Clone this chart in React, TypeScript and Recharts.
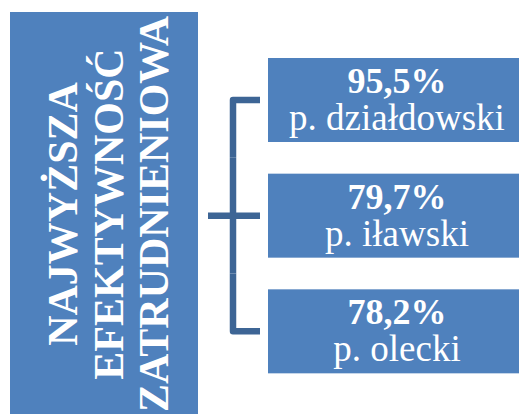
import React from 'react';
import { BarChart, Bar, XAxis, YAxis, Customized } from 'recharts';

// dane z rysunku
const POWIATY = ['p. działdowski', 'p. iławski', 'p. olecki'];
const EFEKTYWNOSC = [95.5, 79.7, 78.2];
const TYTUL = ['NAJWYŻSZA', 'EFEKTYWNOŚĆ', 'ZATRUDNIENIOWA'];

const W = 526;
const H = 414;
const MARGIN = { top: 42, right: 0, bottom: 25, left: 268 };
const BAR_SIZE = 84;
const BOX = '#4f81bd';
const KLAMRA = '#3d6595';
const FONT = 'Liberation Serif';

const data = POWIATY.map((name, i) => ({ name, value: EFEKTYWNOSC[i] }));

const fmt = (v: number) => v.toFixed(1).replace('.', ',') + '%';

// pudełko z tytułem po lewej
function TitleBox() {
  const baselines = [77, 123, 168];
  const cy = 214;
  return (
    <g>
      <rect x={10} y={12} width={188} height={420} fill={BOX} />
      {TYTUL.map((t, i) => (
        <text
          key={t}
          x={baselines[i]}
          y={cy}
          transform={`rotate(-90, ${baselines[i]}, ${cy})`}
          textAnchor="middle"
          fill="#fff"
          style={{ fontFamily: FONT, fontWeight: 700, fontSize: 42 }}
        >
          {t}
        </text>
      ))}
    </g>
  );
}

// prostokąt + fragment klamry
function BoxShape(props: any) {
  const { x, y, width, height, index, payload } = props;
  const n = data.length;
  const band = (H - MARGIN.top - MARGIN.bottom) / n;
  const gap = band - height;
  const cy = y + height / 2;
  const vx = x - 35;
  const stubEnd = x - 8;
  const mid = Math.floor(n / 2);
  let path = '';
  if (index === 0) path = `M${stubEnd},${cy} L${vx},${cy} L${vx},${y + height + gap / 2}`;
  else if (index === n - 1) path = `M${vx},${y - gap / 2} L${vx},${cy} L${stubEnd},${cy}`;
  else path = `M${vx},${y - gap / 2} L${vx},${y + height + gap / 2}`;
  return (
    <g>
      <path d={path} stroke={KLAMRA} strokeWidth={6.5} fill="none" strokeLinejoin="round" />
      {index === mid && index !== 0 && index !== n - 1 && (
        <line x1={x - 60} y1={cy} x2={stubEnd} y2={cy} stroke={KLAMRA} strokeWidth={6.5} />
      )}
      <rect x={x} y={y} width={width} height={height} fill={BOX} />
      <text x={x + 129} y={cy - 7} textAnchor="middle" fill="#fff" style={{ fontFamily: FONT, fontWeight: 700, fontSize: 36 }}>
        {fmt(payload.value)}
      </text>
      <text x={x + 129} y={cy + 30} textAnchor="middle" fill="#fff" style={{ fontFamily: FONT, fontSize: 37 }}>
        {payload.name}
      </text>
    </g>
  );
}

export default function App() {
  return (
    <div style={{ position: 'fixed', left: 0, top: 0, width: 519, height: H, overflow: 'hidden', background: '#fff' }}>
      <BarChart width={W} height={H} data={data} layout="vertical" margin={MARGIN}>
        <XAxis type="number" domain={[0, 1]} hide />
        <YAxis type="category" dataKey="name" hide />
        <Customized component={TitleBox} />
        <Bar dataKey={() => 1} barSize={BAR_SIZE} shape={BoxShape} isAnimationActive={false} />
      </BarChart>
    </div>
  );
}
